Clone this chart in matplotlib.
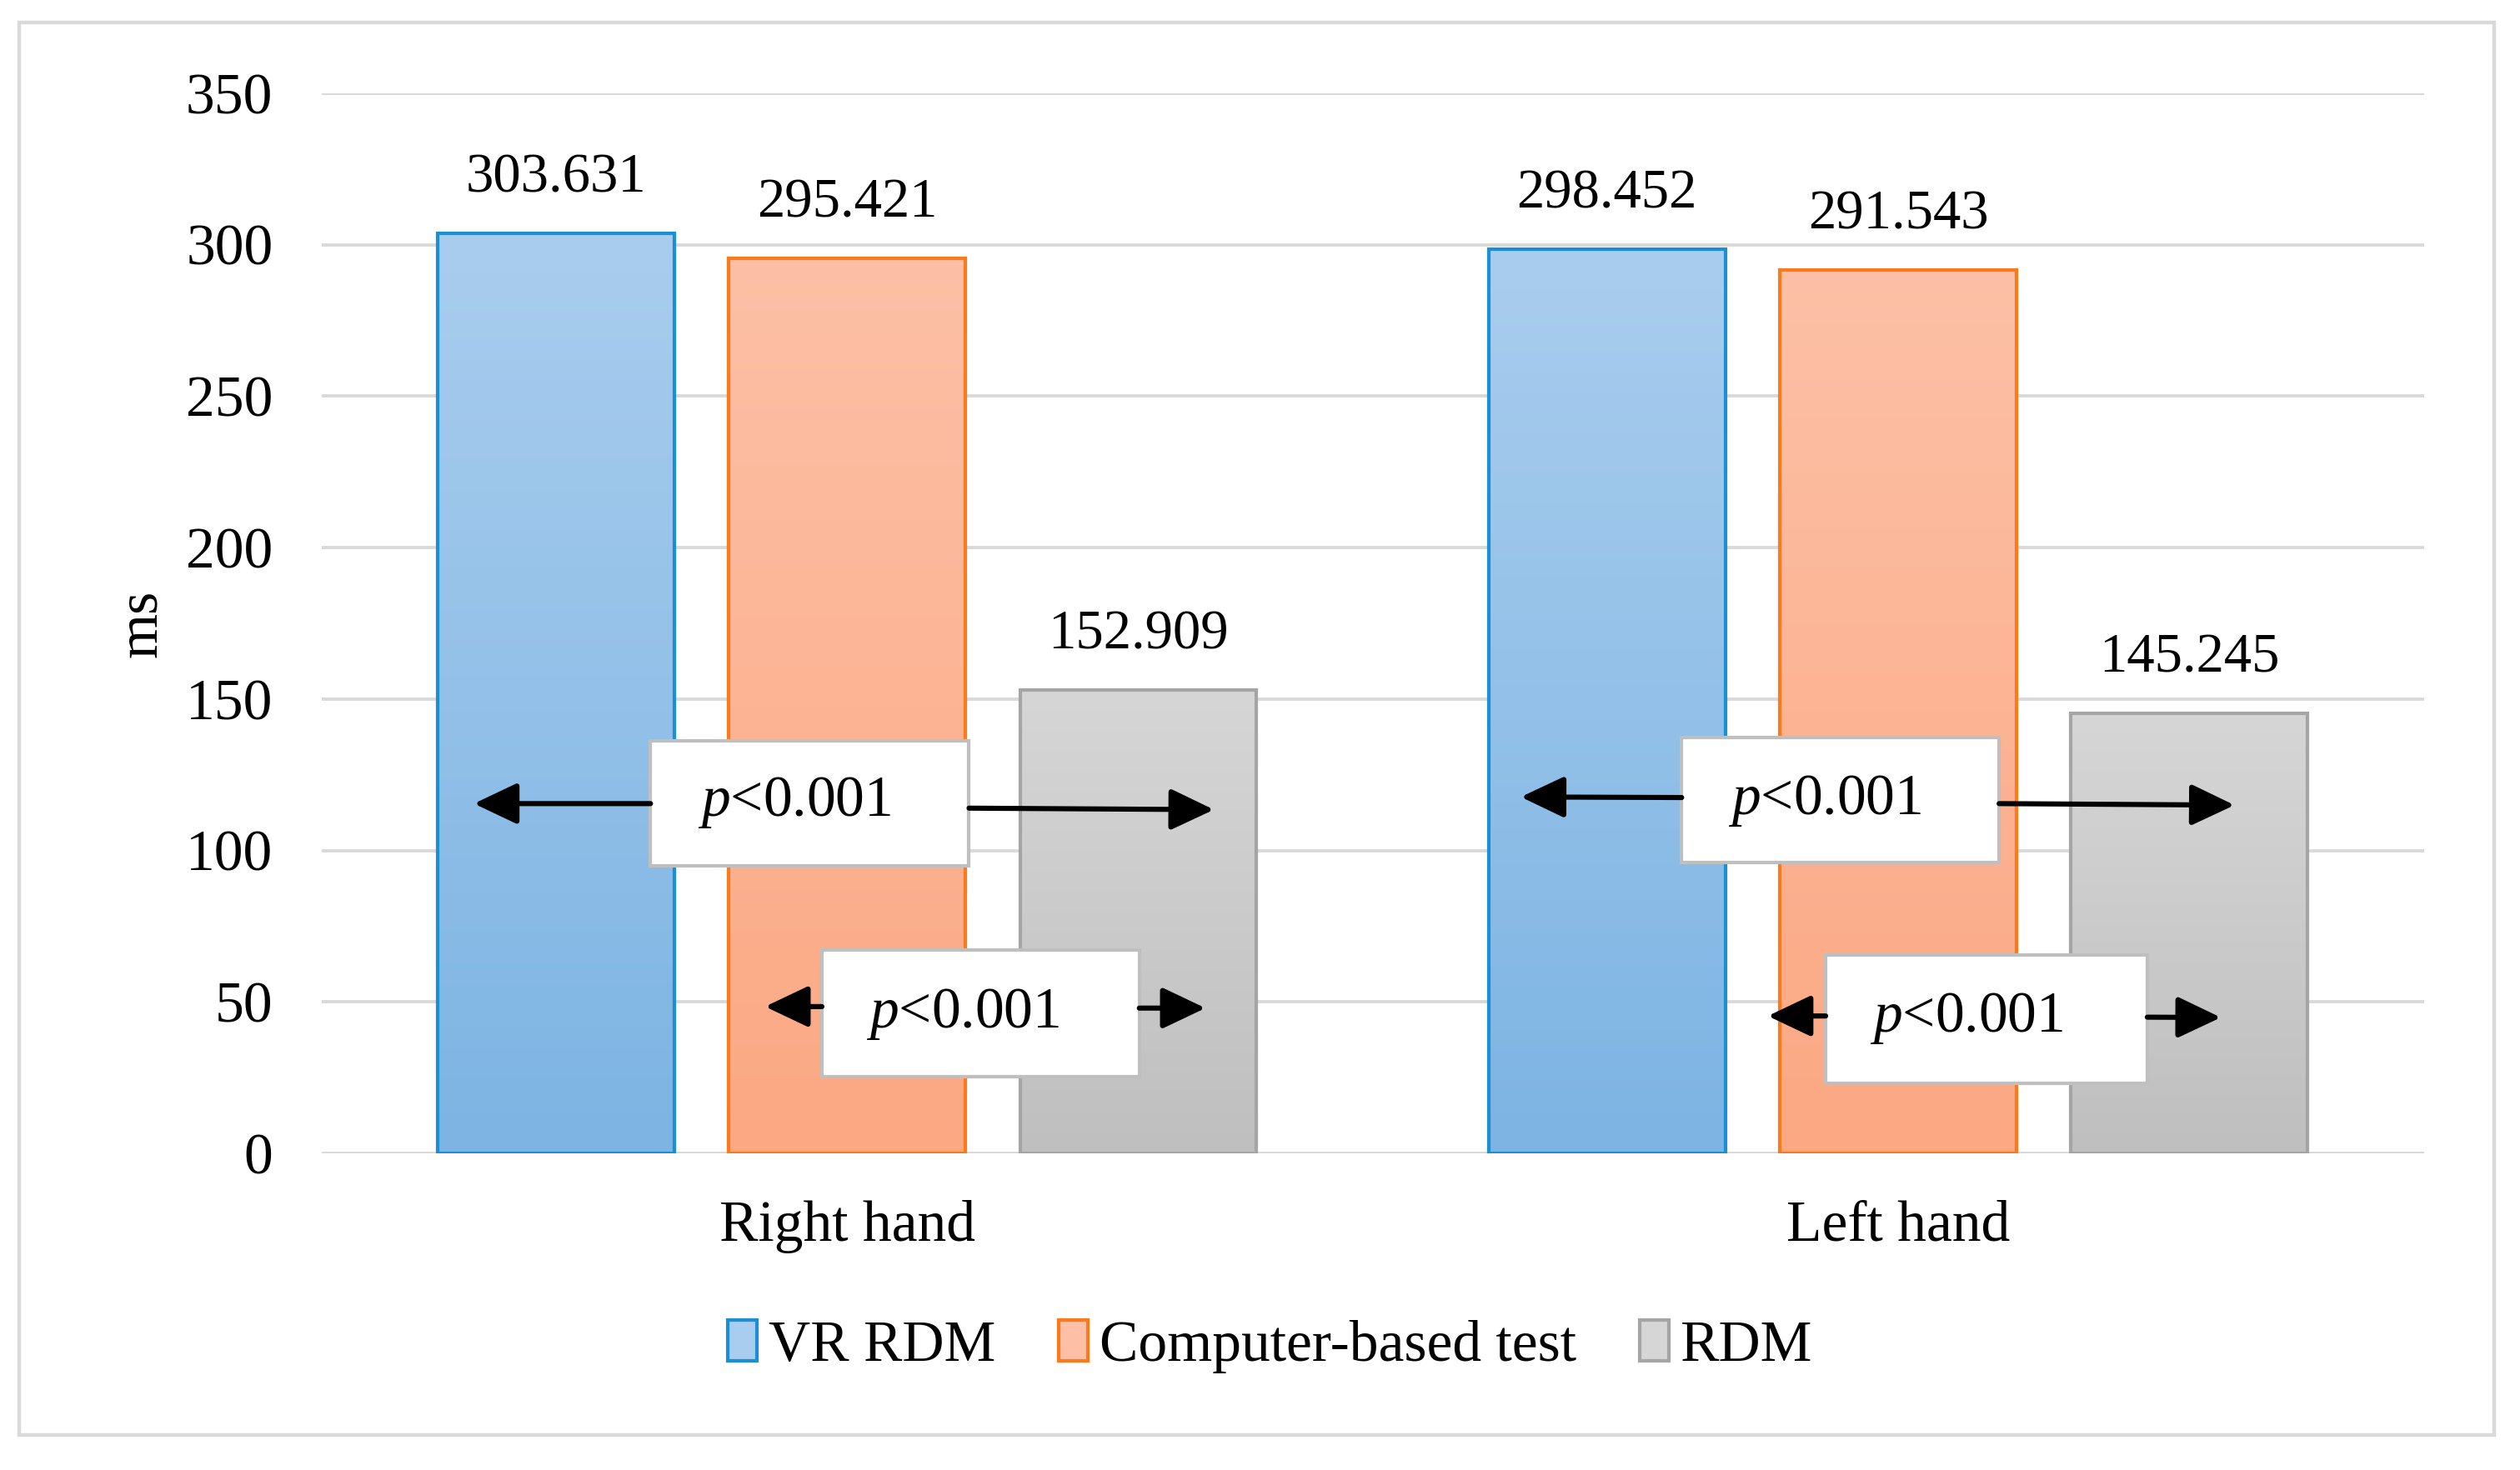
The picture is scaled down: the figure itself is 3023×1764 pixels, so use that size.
import numpy as np
import matplotlib
matplotlib.use("Agg")
from matplotlib import pyplot as plt
from matplotlib.patches import Rectangle
from matplotlib.colors import LinearSegmentedColormap

plt.rcParams['font.family'] = ['Liberation Serif', 'DejaVu Serif']
plt.rcParams['mathtext.fontset'] = 'custom'
plt.rcParams['mathtext.it'] = 'Liberation Serif:italic'
plt.rcParams['mathtext.rm'] = 'Liberation Serif'

# data
hands = ["Right hand", "Left hand"]
series = ["VR RDM", "Computer-based test", "RDM"]
vr_rdm = [303.631, 298.452]
computer_test = [295.421, 291.543]
rdm = [152.909, 145.245]
values = [vr_rdm, computer_test, rdm]

# styles (top colour, bottom colour, edge)
grad_top = ["#a9cdee", "#fdc0a6", "#d6d6d6"]
grad_bot = ["#7db4e3", "#fba883", "#bfbfbf"]
edges = ["#1b8fd6", "#fd7a1c", "#a5a5a5"]

# p-value boxes: (x0, x1, y0, y1) in data units, text position, arrows (start, tip)
boxes = [(-0.187, 0.116, 95.0, 136.2), (-0.024, 0.278, 25.3, 67.1),
         (0.794, 1.096, 96.1, 137.3), (0.931, 1.237, 23.2, 65.5)]
box_text = [(-0.05, 116.0), (0.11, 46.0), (0.93, 116.5), (1.065, 44.5)]
arrows = [[((-0.187, 115.5), (-0.355, 115.5)), ((0.116, 114.0), (0.349, 113.5))],
          [((-0.024, 48.5), (-0.078, 48.5)), ((0.278, 48.0), (0.341, 48.0))],
          [((0.794, 117.5), (0.641, 117.7)), ((1.096, 115.5), (1.32, 115.0))],
          [((0.931, 45.4), (0.876, 45.4)), ((1.237, 45.0), (1.307, 44.9))]]

fig = plt.figure(figsize=(15.115, 8.82), dpi=200)
ax = fig.add_axes([0.1276, 0.2153, 0.8342, 0.7213])

x = np.arange(len(hands))
width = 0.225
offsets = [-0.277, 0, 0.277]
grad = np.linspace(0, 1, 256).reshape(-1, 1)

for i in range(3):
    cmap = LinearSegmentedColormap.from_list("g%d" % i, [grad_top[i], grad_bot[i]])
    bars = ax.bar(x + offsets[i], values[i], width, facecolor="none",
                  edgecolor=edges[i], linewidth=1.5, zorder=3, label=series[i])
    for b in bars:
        x0, w, h = b.get_x(), b.get_width(), b.get_height()
        im = ax.imshow(grad, extent=[x0, x0 + w, 0, h], origin="upper",
                       aspect="auto", cmap=cmap, zorder=2)
        im.set_clip_path(b)
    ax.bar_label(bars, fmt="%.3f", padding=13, fontsize=24)

for (x0, x1, y0, y1), (tx, ty), arr in zip(boxes, box_text, arrows):
    ax.add_patch(Rectangle((x0, y0), x1 - x0, y1 - y0, facecolor="white",
                           edgecolor="#bfbfbf", linewidth=1.5, zorder=5))
    ax.text(tx, ty, r"$p$<0.001", fontsize=25, ha="center", va="center", zorder=6)
    for start, tip in arr:
        ax.annotate("", xy=tip, xytext=start, zorder=6,
                    arrowprops=dict(arrowstyle="-|>,head_length=0.8,head_width=0.38",
                                    color="black", lw=2.2, mutation_scale=20,
                                    shrinkA=0, shrinkB=0))

ax.set_xlim(-0.5, 1.5)
ax.set_ylim(0, 350)
ax.set_yticks(np.arange(0, 351, 50))
ax.set_xticks(x)
ax.set_xticklabels(hands)
ax.tick_params(axis="both", length=0, labelsize=25)
ax.tick_params(axis="y", pad=21)
ax.tick_params(axis="x", pad=20)
ax.grid(axis="y", color="#d9d9d9", linewidth=1.4, zorder=0)
ax.set_axisbelow(True)
for s in ax.spines.values():
    s.set_visible(False)
ax.set_ylabel("ms", fontsize=25)
ax.yaxis.set_label_coords(-0.073, 0.5)

handles = [Rectangle((0, 0), 1, 1, facecolor=grad_top[i], edgecolor=edges[i], linewidth=1.5)
           for i in range(3)]
fig.legend(handles, series, loc="center", bbox_to_anchor=(0.504, 0.084), ncol=3,
           frameon=False, fontsize=25, handlelength=0.5, handleheight=0.7,
           handletextpad=0.2, columnspacing=1.1)

fig.add_artist(Rectangle((12 / 1568, 1 - 893 / 915), 1540 / 1568, 879 / 915,
                         transform=fig.transFigure, facecolor="none",
                         edgecolor="#d9d9d9", linewidth=1.6))

fig.savefig("out.png", dpi=200, facecolor="white")
